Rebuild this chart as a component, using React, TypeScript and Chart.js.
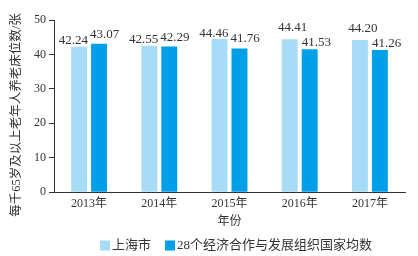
import React, { useEffect, useRef } from 'react';
import { Chart, registerables } from 'chart.js';

Chart.register(...registerables);

const years = ['2013年', '2014年', '2015年', '2016年', '2017年'];
const shanghai = [42.24, 42.55, 44.46, 44.41, 44.2];
const oecd = [43.07, 42.29, 41.76, 41.53, 41.26];
const seriesNames = ['上海市', '28个经济合作与发展组织国家均数'];
const yTitle = '每千65岁及以上老年人养老床位数/张';
const xTitle = '年份';
const yMin = 0;
const yMax = 50;
const yStep = 10;

const LIGHT = '#a6dcf6';
const DARK = '#00a0e8';
const TEXT = '#333333';
const AXIS = '#333333';
const FONT = '"Liberation Serif", "Noto Sans CJK SC", serif';

const extrasPlugin = {
  id: 'extras',
  afterDatasetsDraw(chart: any) {
    const ctx = chart.ctx;
    ctx.save();
    ctx.font = `13px ${FONT}`;
    ctx.fillStyle = TEXT;
    ctx.textBaseline = 'alphabetic';
    const m0 = chart.getDatasetMeta(0);
    const m1 = chart.getDatasetMeta(1);
    m0.data.forEach((el: any, i: number) => {
      const el1: any = m1.data[i];
      const v0 = shanghai[i];
      const v1 = oecd[i];
      const w = el.width;
      const close = Math.abs(v0 - v1) < 2.8;
      if (close) {
        ctx.textAlign = 'right';
        ctx.fillText(v0.toFixed(2), el.x + w / 2 + 1, el.y - 2.5);
        ctx.textAlign = 'left';
        ctx.fillText(v1.toFixed(2), el1.x - w / 2 - 1, el1.y - 6);
      } else {
        ctx.textAlign = 'center';
        ctx.fillText(v0.toFixed(2), el.x + 3, el.y - 8);
        ctx.textAlign = 'left';
        ctx.fillText(v1.toFixed(2), el1.x - w / 2, el1.y - 3);
      }
    });
    ctx.restore();
  },
  afterDraw(chart: any) {
    const ctx = chart.ctx;
    const area = chart.chartArea;
    ctx.save();
    ctx.font = `12.5px ${FONT}`;
    ctx.fillStyle = TEXT;
    ctx.textAlign = 'center';
    ctx.textBaseline = 'middle';
    ctx.translate(17, (area.top + area.bottom) / 2 + 9);
    ctx.rotate(-Math.PI / 2);
    ctx.fillText(yTitle, 0, 0);
    ctx.restore();

    ctx.save();
    ctx.font = `13px ${FONT}`;
    ctx.textBaseline = 'middle';
    ctx.textAlign = 'left';
    const box = 10;
    const gapText = 2;
    const gapItem = 14;
    const ds = chart.data.datasets;
    const widths = ds.map((d: any) => ctx.measureText(d.label).width);
    const total = widths.reduce((a: number, w: number) => a + box + gapText + w, 0) + gapItem * (ds.length - 1);
    let x = 236 - total / 2;
    const yc = 245.5;
    ds.forEach((d: any, i: number) => {
      ctx.fillStyle = d.backgroundColor;
      ctx.fillRect(x, yc - box / 2, box, box);
      x += box + gapText;
      ctx.fillStyle = TEXT;
      ctx.fillText(d.label, x, yc + 0.5);
      x += widths[i] + gapItem;
    });
    ctx.restore();
  },
};

export default function App() {
  const ref = useRef<HTMLCanvasElement>(null);
  useEffect(() => {
    document.body.style.margin = '0';
    const canvas = ref.current;
    if (!canvas) return;
    const chart = new Chart(canvas, {
      type: 'bar',
      data: {
        labels: years,
        datasets: [
          {
            label: seriesNames[0],
            data: shanghai,
            backgroundColor: LIGHT,
            barPercentage: 0.8,
            categoryPercentage: 0.568,
          },
          {
            label: seriesNames[1],
            data: oecd,
            backgroundColor: DARK,
            barPercentage: 0.8,
            categoryPercentage: 0.568,
          },
        ],
      },
      options: {
        animation: false,
        responsive: false,
        devicePixelRatio: 1,
        layout: { padding: { top: 20, right: 13, bottom: 27, left: 31 } },
        plugins: {
          legend: { display: false },
          tooltip: { enabled: false },
        },
        scales: {
          x: {
            grid: { display: false, drawTicks: false },
            border: { display: true, color: AXIS, width: 1 },
            ticks: { color: TEXT, font: { size: 12, family: FONT }, padding: 4 },
            title: {
              display: true,
              text: xTitle,
              color: TEXT,
              font: { size: 12, family: FONT },
              padding: { top: 0, bottom: 0 },
            },
          },
          y: {
            min: yMin,
            max: yMax,
            grid: { drawOnChartArea: false, drawTicks: true, tickLength: 5, color: AXIS },
            border: { display: true, color: AXIS, width: 1 },
            ticks: { stepSize: yStep, color: TEXT, font: { size: 12, family: FONT }, padding: 3 },
          },
        },
      },
      plugins: [extrasPlugin],
    });
    return () => chart.destroy();
  }, []);
  return <canvas ref={ref} width={418} height={256} style={{ display: 'block', width: 418, height: 256 }} />;
}
